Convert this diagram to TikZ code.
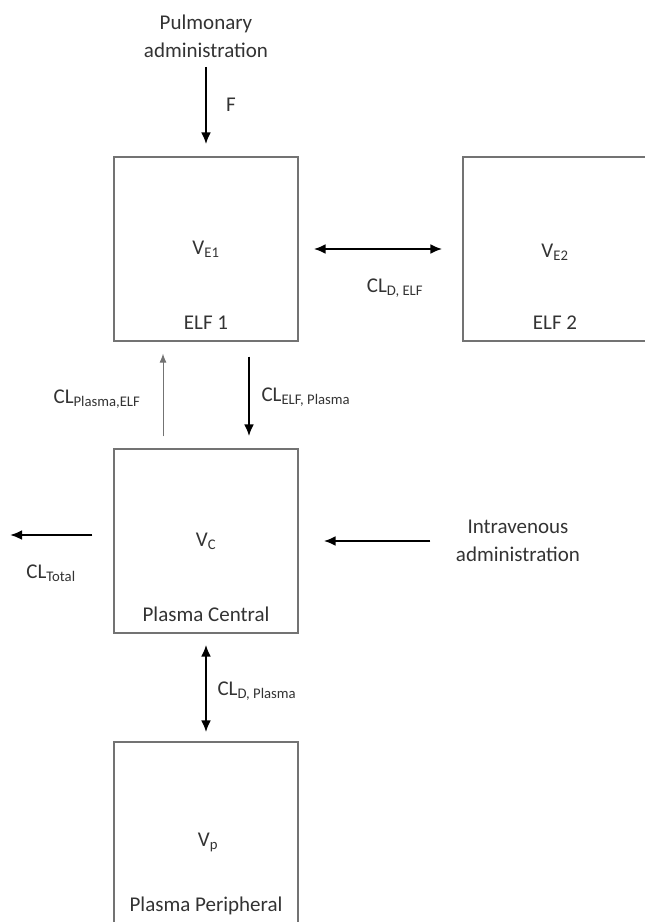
\documentclass[tikz,border=0pt]{standalone}
\usepackage{fontspec}
\setmainfont{Carlito}
\usetikzlibrary{arrows.meta}
\usetikzlibrary{positioning}

\tikzset{
  compartment/.style={draw=black!55, line width=1.2pt, minimum size=184pt, inner sep=0pt},
  flow/.style={line width=2.8pt, -{Latex[length=12pt,width=10pt]}},
  exchange/.style={line width=2.8pt, {Latex[length=12pt,width=10pt]}-{Latex[length=12pt,width=10pt]}},
  thinflow/.style={draw=black!55, line width=1pt, -{Latex[length=9pt,width=7pt]}},
}

\begin{document}
\begin{tikzpicture}[x=1pt,y=-1pt,node distance=2.5cm,on grid,
    every node/.style={font=\fontsize{21}{28}\selectfont, text=black!80}]
    \useasboundingbox (0,0) rectangle (645,922);
    \clip (0,0) rectangle (645,922);
        % compartments
        \node[compartment] (elf1) at (206,249) {};
        \node[compartment] (elf2) [right=349pt of elf1] {};
        \node[compartment] (cent) [below=292pt of elf1] {};
        \node[compartment] (peri) [below=293pt of cent] {};
        \node at (elf1.center) {V\textsubscript{E1}};
        \node at ([yshift=19pt]elf1.south) {ELF 1};
        \node at ([yshift=-3pt]elf2.center) {V\textsubscript{E2}};
        \node at ([yshift=19pt]elf2.south) {ELF 2};
        \node at (cent.center) {V\textsubscript{C}};
        \node at ([yshift=19pt]cent.south) {Plasma Central};
        \node at ([xshift=2pt,yshift=-8pt]peri.center) {V\textsubscript{p}};
        \node at (206,906) {Plasma Peripheral};
        % inputs
        \node[align=center] (pulm) at (206,36) {Pulmonary\\administration};
        \node[align=center] (iv) at (518,541) {Intravenous\\administration};
        \coordinate (out) at (10,535);
        % flows
        \draw[flow, shorten <=6pt, shorten >=12pt] (pulm.south) -- (elf1.north);
        \draw[exchange, shorten <=15pt, shorten >=20pt] (elf1.east) -- (elf2.west);
        \draw[thinflow, shorten <=12pt, shorten >=12pt] ([xshift=-43pt]cent.north) -- ([xshift=-43pt]elf1.south);
        \draw[flow, shorten <=15pt, shorten >=12pt] ([xshift=43pt]elf1.south) -- ([xshift=43pt]cent.north);
        \draw[flow, shorten <=21pt] ([yshift=6pt]cent.west) -- (out);
        \draw[flow, shorten <=22pt, shorten >=25pt] (iv.west) -- (cent.east);
        \draw[exchange, shorten <=11pt, shorten >=9pt] (cent.south) -- (peri.north);
        % labels
        \node at (231,105) {F};
        \node at (395,288) {CL\textsubscript{D, ELF}};
        \node at (97,399) {CL\textsubscript{Plasma,ELF}};
        \node[anchor=west] at (258,397) {CL\textsubscript{ELF, Plasma}};
        \node at (51,573) {CL\textsubscript{Total}};
        \node[anchor=west] at (214,691) {CL\textsubscript{D, Plasma}};
\end{tikzpicture}
\end{document}
